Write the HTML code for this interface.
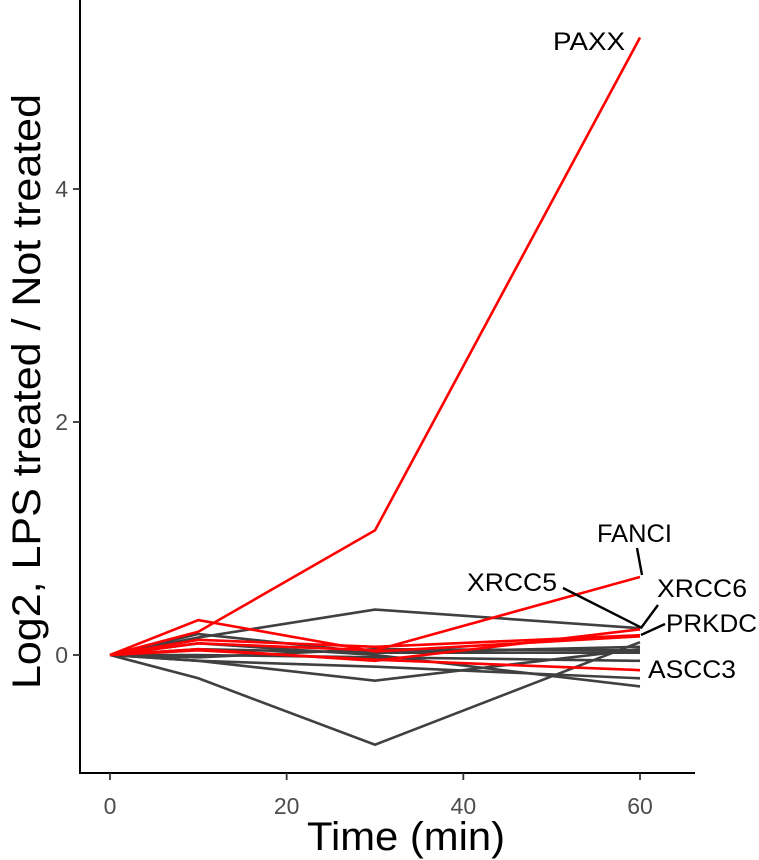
<!DOCTYPE html>
<html><head><meta charset="utf-8"><style>
body{margin:0;background:#fff}
svg{display:block;font-family:"Liberation Sans",Arial,sans-serif}
</style></head><body>
<svg id="chart" width="759" height="860"></svg>
<script>
const times=[0,10,30,60];
const seriesNames=["PAXX","FANCI","red3","XRCC6","ASCC3","XRCC5","g1","g2","g3","g4","g5","g6","g7","g8","g9"];
const seriesColors=["red","red","red","red","red","red","#404040","#404040","#404040","#404040","#404040","#404040","#404040","#404040","#404040"];
const seriesValues=[
[0,0.2,1.07,5.3],
[0,0.1,0.04,0.67],
[0,0.3,0.03,0.16],
[0,0.13,0.07,0.17],
[0,0.04,-0.04,-0.13],
[0,0.05,-0.05,0.22],
[0,0.15,0.39,0.23],
[0,-0.2,-0.77,0.11],
[0,-0.05,-0.22,0.05],
[0,0.1,0,-0.27],
[0,-0.05,-0.1,-0.2],
[0,0,-0.02,-0.05],
[0,0.05,0.02,0.02],
[0,-0.02,0.05,0.04],
[0,0.18,0.02,0.07]];
const xTicks=[0,20,40,60];
const yTicks=[0,2,4];
const NS="http://www.w3.org/2000/svg";
const svg=document.getElementById("chart");
const sx=v=>110+v*(530/60);
const sy=v=>655-v*116.5;
function mk(tag,attrs,parent){const e=document.createElementNS(NS,tag);for(const k in attrs)e.setAttribute(k,attrs[k]);(parent||svg).appendChild(e);return e;}
const order=[...seriesValues.keys()].sort((a,b)=>(seriesColors[a]==="red")-(seriesColors[b]==="red"));
order.forEach(i=>{
 const p=mk("polyline",{points:seriesValues[i].map((v,j)=>sx(times[j])+","+sy(v)).join(" "),fill:"none",stroke:seriesColors[i],"stroke-width":2.6});
 
 
});
const ax=mk("path",{d:"M80,0V773H695",fill:"none",stroke:"#000","stroke-width":2});


xTicks.forEach(t=>{
 mk("line",{x1:sx(t),x2:sx(t),y1:773,y2:780,stroke:"#333","stroke-width":1.8});
 const l=mk("text",{x:sx(t),y:814,"text-anchor":"middle","font-size":23,fill:"#4d4d4d"});l.textContent=t;
 
 
});
yTicks.forEach(t=>{
 mk("line",{x1:73,x2:80,y1:sy(t),y2:sy(t),stroke:"#333","stroke-width":1.8});
 const l=mk("text",{x:68,y:sy(t)+8,"text-anchor":"end","font-size":23,fill:"#4d4d4d"});l.textContent=t;
 
 
});
const xt=mk("text",{x:307,y:850,"font-size":40,textLength:198,lengthAdjust:"spacingAndGlyphs"});xt.textContent="Time (min)";


const yt=mk("text",{x:-297,y:0,"font-size":40,textLength:595,lengthAdjust:"spacingAndGlyphs",transform:"translate(40,392) rotate(-90)"});yt.textContent="Log2, LPS treated / Not treated";


const labels=[["PAXX",553,50,72],["FANCI",597,542,75],["XRCC5",467,591,90],["XRCC6",657,597,90],["PRKDC",666,632,91],["ASCC3",648,678,88]];
labels.forEach(a=>{const l=mk("text",{x:a[1],y:a[2],"font-size":25,textLength:a[3],lengthAdjust:"spacingAndGlyphs"});l.textContent=a[0];
 
 });
[[637,548,642,575],[563,588,642,628],[658,605,641,628],[665,624,641,635]].forEach(s=>{
 const l=mk("line",{x1:s[0],y1:s[1],x2:s[2],y2:s[3],stroke:"#000","stroke-width":2.4});
 
 });
</script>
</body></html>
